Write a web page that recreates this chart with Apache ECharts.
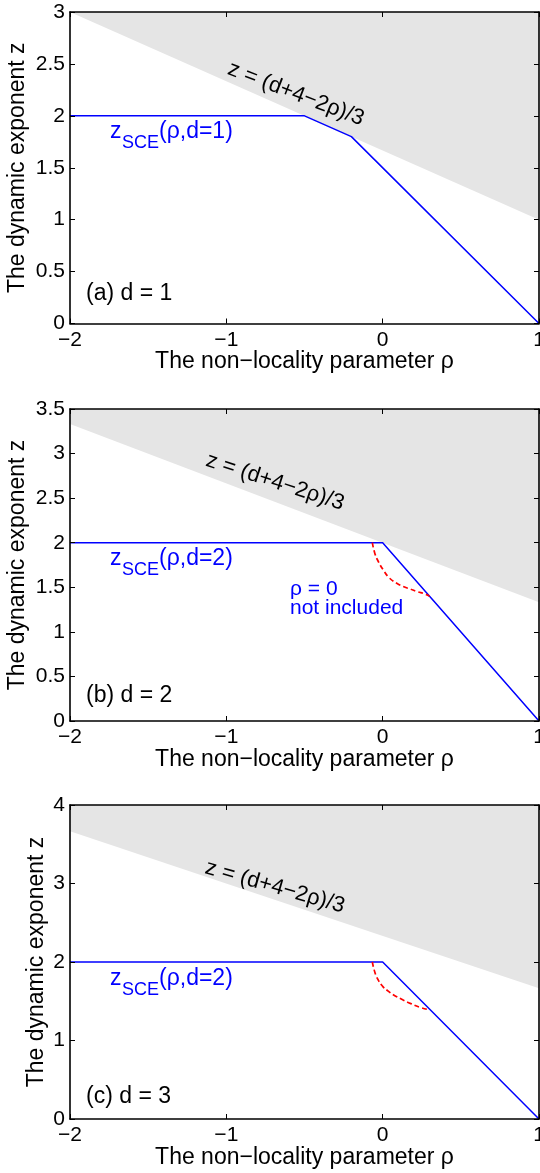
<!DOCTYPE html>
<html>
<head>
<meta charset="utf-8">
<script src="https://cdn.jsdelivr.net/npm/echarts@6/dist/echarts.min.js"></script>
<style>
  html, body { margin: 0; padding: 0; background: #fff; }
  #chart { width: 540px; height: 1173px; }
</style>
</head>
<body>
<div id="chart"></div>
<script>
// ---- data ----
const xTicks = [-2, -1, 0, 1];
const yMaxes = [3, 3.5, 4];
const yIntervals = [0.5, 0.5, 1];
const panelLabels = ['(a) d = 1', '(b) d = 2', '(c) d = 3'];
const sceLabels = ['(ρ,d=1)', '(ρ,d=2)', '(ρ,d=2)'];
const boundaryLabel = 'z = (d+4−2ρ)/3';
const xAxisTitle = 'The non−locality parameter ρ';
const yAxisTitle = 'The dynamic exponent z';
const noteLines = ['ρ = 0', 'not included'];

// upper bound z = (d+4-2rho)/3, endpoints
const boundaryA = [[-2, 3.0], [1, 1.0]];
const boundaryB = [[-2, 3.333], [1, 1.333]];
const boundaryC = [[-2, 3.667], [1, 1.667]];

// z_SCE curves
const zsceA = [[-2, 2], [-0.5, 2], [-0.2, 1.8], [1, 0]];
const zsceB = [[-2, 2], [0, 2], [1, 0]];
const zsceC = [[-2, 2], [0, 2], [1, 0]];

// red dashed curves (rho = 0 not included)
const redB = [[-0.066, 2.0], [-0.05, 1.88], [-0.025, 1.78], [0.004, 1.694], [0.04, 1.61], [0.09, 1.545], [0.13, 1.51], [0.175, 1.481], [0.22, 1.452], [0.27, 1.425], [0.3, 1.4]];
const redC = [[-0.066, 2.0], [-0.05, 1.87], [-0.028, 1.77], [0.0, 1.69], [0.026, 1.643], [0.07, 1.58], [0.122, 1.525], [0.18, 1.47], [0.239, 1.423], [0.3, 1.39]];

// ---- layout ----
const FONT = 'Liberation Sans, Arial, Helvetica, sans-serif';
const grids = [
  { left: 70, width: 469, top: 12, height: 311.5 },
  { left: 70, width: 469, top: 409, height: 312 },
  { left: 70, width: 469, top: 805, height: 314 }
];
const yNameGaps = [41, 41, 22];

const boundaries = [boundaryA, boundaryB, boundaryC];
const zsces = [zsceA, zsceB, zsceC];
const reds = [null, redB, redC];

const axisLineStyle = { color: '#000', width: 1.6 };
const fmtMinus = v => String(v).replace('-', '−');

const xAxes = [], yAxes = [], series = [];
grids.forEach((g, i) => {
  xAxes.push({
    type: 'value', gridIndex: i, position: 'bottom', min: xTicks[0], max: xTicks[xTicks.length - 1], interval: 1, z: 10,
    axisLine: { show: true, onZero: false, lineStyle: axisLineStyle },
    axisTick: { show: true, inside: true, length: 5, lineStyle: { color: '#000', width: 1 } },
    axisLabel: { show: true, margin: 6, color: '#000', fontSize: 21, fontFamily: FONT, formatter: fmtMinus, showMinLabel: true, showMaxLabel: true },
    splitLine: { show: false },
    name: xAxisTitle, nameLocation: 'middle', nameGap: 27, nameMoveOverlap: false,
    nameTextStyle: { color: '#000', fontSize: 23, fontFamily: FONT }
  });
  yAxes.push({
    type: 'value', gridIndex: i, position: 'left', min: 0, max: yMaxes[i], interval: yIntervals[i], z: 10,
    axisLine: { show: true, onZero: false, lineStyle: axisLineStyle },
    axisTick: { show: true, inside: true, length: 5, lineStyle: { color: '#000', width: 1 } },
    axisLabel: { show: true, margin: 5, color: '#000', fontSize: 21, fontFamily: FONT, showMinLabel: true, showMaxLabel: true },
    splitLine: { show: false },
    name: yAxisTitle, nameLocation: 'middle', nameGap: yNameGaps[i], nameRotate: 90, nameMoveOverlap: false,
    nameTextStyle: { color: '#000', fontSize: 23, fontFamily: FONT }
  });
});
grids.forEach((g, i) => {
  xAxes.push({
    type: 'value', gridIndex: i, position: 'top', min: xTicks[0], max: xTicks[xTicks.length - 1], interval: 1, z: 10,
    axisLine: { show: true, onZero: false, lineStyle: axisLineStyle },
    axisTick: { show: true, inside: true, length: 5, lineStyle: { color: '#000', width: 1 } },
    axisLabel: { show: false }, splitLine: { show: false }
  });
  yAxes.push({
    type: 'value', gridIndex: i, position: 'right', min: 0, max: yMaxes[i], interval: yIntervals[i], z: 10,
    axisLine: { show: true, onZero: false, lineStyle: axisLineStyle },
    axisTick: { show: true, inside: true, length: 5, lineStyle: { color: '#000', width: 1 } },
    axisLabel: { show: false }, splitLine: { show: false }
  });
});

grids.forEach((g, i) => {
  series.push({
    type: 'line', xAxisIndex: i, yAxisIndex: i, data: boundaries[i],
    showSymbol: false, symbol: 'none', silent: true, z: 1,
    lineStyle: { width: 0, opacity: 0 },
    areaStyle: { color: '#e5e5e5', opacity: 1, origin: 'end' }
  });
  series.push({
    type: 'line', xAxisIndex: i, yAxisIndex: i, data: zsces[i],
    showSymbol: false, symbol: 'none', silent: true, z: 3,
    lineStyle: { color: '#0000ff', width: 1.5 }
  });
  if (reds[i]) {
    series.push({
      type: 'line', xAxisIndex: i, yAxisIndex: i, data: reds[i], smooth: true,
      showSymbol: false, symbol: 'none', silent: true, z: 4,
      lineStyle: { color: '#ff0000', width: 1.7, type: [5, 3] }
    });
  }
});

// ---- annotations (pixel placement) ----
const boundaryTextPos = [[296, 94, 21], [275, 482, 18], [275, 887, 16]];
const sceTextY = [132, 559, 979];
const panelLabelY = [294, 696, 1097];
const graphics = [];
grids.forEach((g, i) => {
  const b = boundaryTextPos[i];
  graphics.push({
    type: 'text', x: b[0], y: b[1], rotation: -b[2] * Math.PI / 180, z: 20,
    style: { text: boundaryLabel, fill: '#000', font: '22px ' + FONT, textAlign: 'center', textVerticalAlign: 'middle' }
  });
  graphics.push({
    type: 'text', x: 110, y: sceTextY[i], z: 20,
    style: { text: 'z', fill: '#0000ff', font: '23px ' + FONT, textAlign: 'left', textVerticalAlign: 'middle' }
  });
  graphics.push({
    type: 'text', x: 122, y: sceTextY[i] + 11, z: 20,
    style: { text: 'SCE', fill: '#0000ff', font: '18px ' + FONT, textAlign: 'left', textVerticalAlign: 'middle' }
  });
  graphics.push({
    type: 'text', x: 159, y: sceTextY[i], z: 20,
    style: { text: sceLabels[i], fill: '#0000ff', font: '23px ' + FONT, textAlign: 'left', textVerticalAlign: 'middle' }
  });
  graphics.push({
    type: 'text', x: 86, y: panelLabelY[i], z: 20,
    style: { text: panelLabels[i], fill: '#000', font: '23px ' + FONT, textAlign: 'left', textVerticalAlign: 'middle' }
  });
});
graphics.push({
  type: 'text', x: 290, y: 589, z: 20,
  style: { text: noteLines[0], fill: '#0000ff', font: '21px ' + FONT, textAlign: 'left', textVerticalAlign: 'middle' }
});
graphics.push({
  type: 'text', x: 290, y: 608, z: 20,
  style: { text: noteLines[1], fill: '#0000ff', font: '21px ' + FONT, textAlign: 'left', textVerticalAlign: 'middle' }
});

const chart = echarts.init(document.getElementById('chart'), null, { renderer: 'canvas' });
chart.setOption({
  animation: false,
  backgroundColor: '#fff',
  grid: grids.map(g => Object.assign({ containLabel: false, outerBoundsMode: 'none' }, g)),
  xAxis: xAxes,
  yAxis: yAxes,
  series: series,
  graphic: graphics
});
</script>
</body>
</html>
